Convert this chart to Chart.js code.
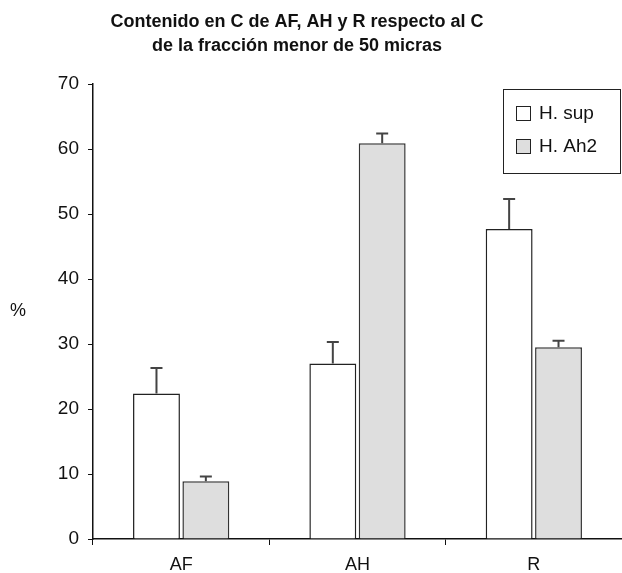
<!DOCTYPE html>
<html>
<head>
<meta charset="utf-8">
<script src="https://cdn.jsdelivr.net/npm/chart.js@4"></script>
<style>
  html, body { margin: 0; padding: 0; background: #fff; }
  #wrap { width: 622px; height: 573px; }
</style>
</head>
<body>
<div id="wrap"><canvas id="chart"></canvas></div>
<script>
// data
const categories = ['AF', 'AH', 'R'];
const supValues = [22.4, 27.0, 47.7];
const supErrors = [3.9, 3.3, 4.6];
const ah2Values = [8.9, 60.9, 29.5];
const ah2Errors = [0.7, 1.5, 1.0];
const seriesNames = ['H. sup', 'H. Ah2'];
const titleLines = ['Contenido en C de AF, AH y R respecto al C', 'de la fracción menor de 50 micras'];

const FONT = "'Liberation Sans', Arial, Helvetica, sans-serif";

// upward-only error bars on top of each bar
const errorBars = {
  id: 'errorBars',
  afterDatasetsDraw(chart) {
    const ctx = chart.ctx;
    const y = chart.scales.y;
    ctx.save();
    ctx.strokeStyle = '#444';
    ctx.lineWidth = 2;
    chart.data.datasets.forEach((ds, i) => {
      const meta = chart.getDatasetMeta(i);
      meta.data.forEach((bar, j) => {
        const top = y.getPixelForValue(ds.data[j] + ds.errors[j]);
        ctx.beginPath();
        ctx.moveTo(bar.x, bar.y);
        ctx.lineTo(bar.x, top);
        ctx.moveTo(bar.x - 6, top);
        ctx.lineTo(bar.x + 6, top);
        ctx.stroke();
      });
    });
    ctx.restore();
  }
};

// title, "%" label and boxed legend
const extras = {
  id: 'extras',
  afterDraw(chart) {
    const ctx = chart.ctx;
    ctx.save();
    ctx.fillStyle = '#111';
    ctx.font = 'bold 18px ' + FONT;
    ctx.textAlign = 'center';
    ctx.textBaseline = 'middle';
    ctx.fillText(titleLines[0], 297, 22);
    ctx.fillText(titleLines[1], 297, 46);

    ctx.font = '18px ' + FONT;
    ctx.fillText('%', 18, 311);

    // legend
    ctx.strokeStyle = '#222';
    ctx.lineWidth = 1;
    ctx.strokeRect(503.5, 89.5, 117, 84);
    ctx.font = '19px ' + FONT;
    ctx.textAlign = 'left';
    chart.data.datasets.forEach((ds, i) => {
      const cy = 113 + i * 33;
      ctx.fillStyle = ds.backgroundColor;
      ctx.fillRect(516.5, cy - 6.5, 14, 14);
      ctx.strokeRect(516.5, cy - 6.5, 14, 14);
      ctx.fillStyle = '#111';
      ctx.fillText(ds.label, 539, cy + 1);
    });
    ctx.restore();
  }
};

new Chart(document.getElementById('chart'), {
  type: 'bar',
  data: {
    labels: categories,
    datasets: [
      { label: seriesNames[0], data: supValues, errors: supErrors,
        backgroundColor: '#ffffff', borderColor: '#222', borderWidth: 1.5 },
      { label: seriesNames[1], data: ah2Values, errors: ah2Errors,
        backgroundColor: '#dedede', borderColor: '#333', borderWidth: 1.5 }
    ]
  },
  options: {
    responsive: true,
    maintainAspectRatio: false,
    animation: false,
    layout: { padding: { top: 84, right: 0, bottom: 0, left: 0 } },
    categoryPercentage: 0.56,
    barPercentage: 0.95,
    plugins: {
      legend: { display: false },
      tooltip: { enabled: false }
    },
    scales: {
      x: {
        afterFit(scale) { scale.height = 34; },
        grid: { display: true, offset: true, drawOnChartArea: false, tickLength: 6, color: '#111', lineWidth: 1 },
        border: { color: '#111', width: 1.5 },
        ticks: { color: '#111', font: { family: FONT, size: 18 }, padding: 9 }
      },
      y: {
        min: 0,
        max: 70,
        afterFit(scale) { scale.width = 93; },
        grid: { drawOnChartArea: false, tickLength: 5, color: '#111', lineWidth: 1 },
        border: { color: '#111', width: 1.5 },
        ticks: { stepSize: 10, color: '#111', font: { family: FONT, size: 19 }, padding: 9 }
      }
    }
  },
  plugins: [errorBars, extras]
});
</script>
</body>
</html>
